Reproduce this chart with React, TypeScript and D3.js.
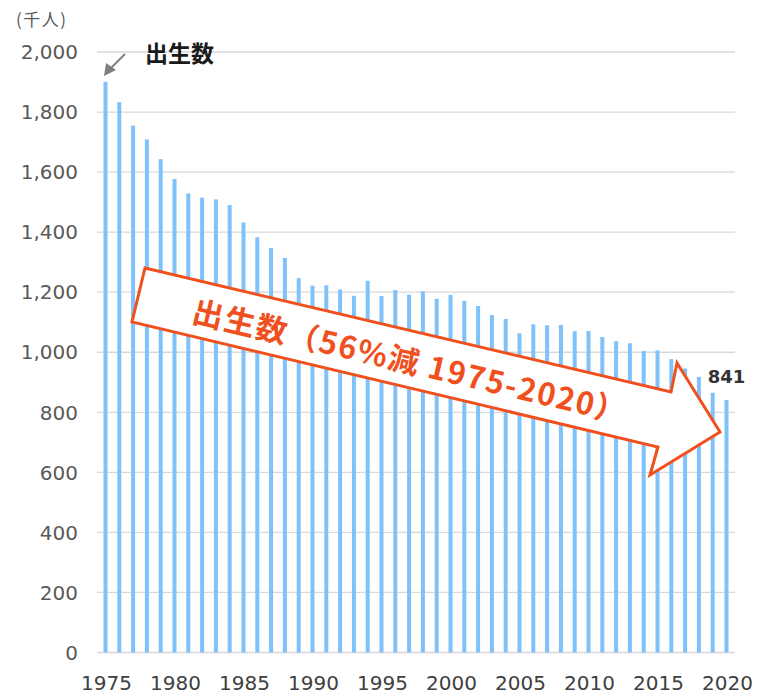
import React from "react";
import * as d3 from "d3";

// births in Japan, thousands
const years = d3.range(1975, 2021);
const births = [
  1901, 1833, 1755, 1709, 1643, 1577, 1529, 1515, 1509, 1490,
  1432, 1383, 1347, 1314, 1247, 1222, 1223, 1209, 1188, 1238,
  1187, 1207, 1192, 1203, 1178, 1191, 1171, 1154, 1124, 1111,
  1063, 1093, 1090, 1091, 1070, 1071, 1051, 1037, 1030, 1004,
  1006, 977, 946, 918, 865, 841,
];
const yTicks = [0, 200, 400, 600, 800, 1000, 1200, 1400, 1600, 1800, 2000];
const xTickYears = [1975, 1980, 1985, 1990, 1995, 2000, 2005, 2010, 2015, 2020];
const unitLabel = "(千人)";
const seriesLabel = "出生数";
const arrowLabel = "出生数（56%減 1975-2020）";

const W = 760;
const H = 696;
const numFont = "'DejaVu Sans', Verdana, sans-serif";
const jpFont = "'Noto Sans CJK JP', 'Noto Sans', sans-serif";

export default function App() {
  const x = d3
    .scaleBand<number>()
    .domain(years)
    .range([98.6, 733.4])
    .paddingInner(0.71)
    .paddingOuter(0.355);
  const y = d3.scaleLinear().domain([0, 2000]).range([652.5, 52]);

  const cx = (yr: number) => (x(yr) as number) + x.bandwidth() / 2;
  const last = births.length - 1;

  // big annotation arrow (pixel polygon)
  const bigArrow = [
    [145, 268],
    [671, 392],
    [677, 363],
    [720, 432],
    [650, 475],
    [658, 447],
    [132, 322],
  ];
  const angle = (Math.atan2(137, 581.5) * 180) / Math.PI;

  return (
    <svg
      width={W}
      height={H}
      style={{ position: "absolute", left: 0, top: 0, background: "#fff" }}
    >
      {/* gridlines */}
      {yTicks.map((t) => (
        <line
          key={"g" + t}
          x1={97}
          x2={735}
          y1={y(t)}
          y2={y(t)}
          stroke="#d9d9d9"
          strokeWidth={1.3}
        />
      ))}

      {/* y labels */}
      {yTicks.map((t) => (
        <text
          key={"yl" + t}
          x={78}
          y={y(t)}
          dy="0.36em"
          textAnchor="end"
          fontFamily={numFont}
          fontSize={20}
          fill="#595959"
        >
          {d3.format(",")(t)}
        </text>
      ))}

      <text
        x={16}
        y={26}
        fontFamily={jpFont}
        fontSize={17}
        letterSpacing={1.5}
        fill="#595959"
      >
        {unitLabel}
      </text>

      {/* bars */}
      {births.map((v, i) => (
        <rect
          key={years[i]}
          x={x(years[i])}
          y={y(v)}
          width={x.bandwidth()}
          height={y(0) - y(v)}
          fill="#7fc2fb"
        />
      ))}

      {/* x labels */}
      {xTickYears.map((yr) => (
        <text
          key={"xl" + yr}
          x={cx(yr) + 1}
          y={690}
          textAnchor="middle"
          fontFamily={numFont}
          fontSize={20}
          fill="#404040"
        >
          {yr}
        </text>
      ))}

      {/* series label with small pointer */}
      <line x1={125} y1={54} x2={110} y2={69} stroke="#7f7f7f" strokeWidth={2} />
      <path d="M104,76 L106,63 L116,70 Z" fill="#7f7f7f" />
      <text
        x={145}
        y={62}
        fontFamily={jpFont}
        fontWeight="bold"
        fontSize={23}
        fill="#1a1a1a"
      >
        {seriesLabel}
      </text>

      {/* last value */}
      <text
        x={cx(years[last])}
        y={y(births[last]) - 17}
        textAnchor="middle"
        fontFamily={numFont}
        fontWeight="bold"
        fontSize={18}
        fill="#333"
      >
        {births[last]}
      </text>

      {/* trend arrow */}
      <polygon
        points={bigArrow.map((p) => p.join(",")).join(" ")}
        fill="#fff"
        stroke="#f0501e"
        strokeWidth={3}
        strokeLinejoin="miter"
      />
      <text
        transform={`translate(410,362) rotate(${angle})`}
        textAnchor="middle"
        dy="0.36em"
        fontFamily={jpFont}
        fontWeight="bold"
        fontSize={31}
        letterSpacing={1.5}
        fill="#f0501e"
      >
        {arrowLabel}
      </text>
    </svg>
  );
}
